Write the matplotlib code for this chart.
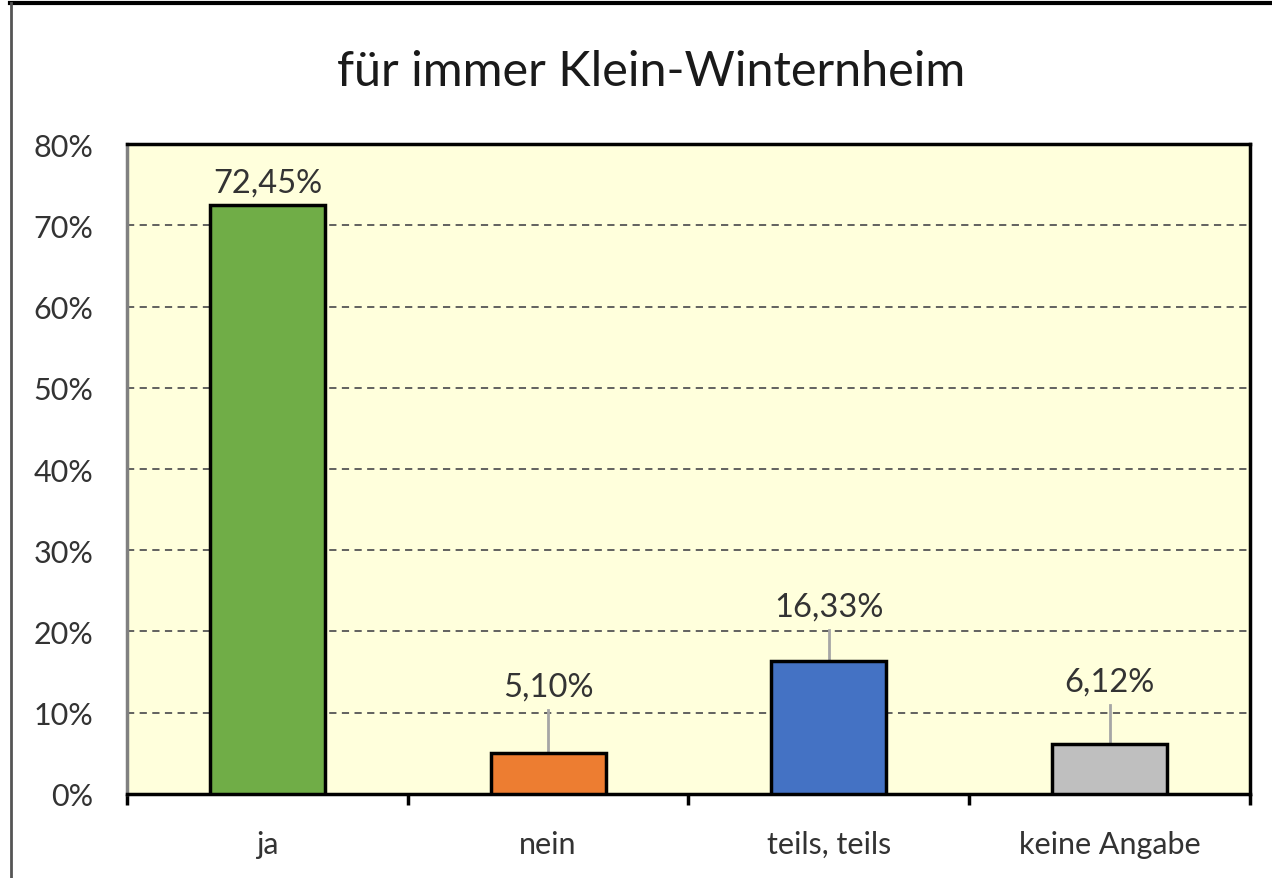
import matplotlib.pyplot as plt
from matplotlib.lines import Line2D

categories = ['ja', 'nein', 'teils, teils', 'keine Angabe']
values = [72.45, 5.10, 16.33, 6.12]
labels = ['72,45%', '5,10%', '16,33%', '6,12%']
# Position der Beschriftungen (in %), Excel hat einige nach oben versetzt
label_y = [75.3, 13.2, 23.1, 13.9]
colors = ['#70ad47', '#ed7d31', '#4472c4', '#bfbfbf']

plt.rcParams['font.family'] = ['Lato', 'DejaVu Sans']

fig = plt.figure(figsize=(12.72, 8.79), dpi=100)
ax = fig.add_axes([0.0998, 0.0956, 0.8829, 0.7394])
ax.set_facecolor('#ffffdc')

x = range(len(categories))
ax.bar(x, values, width=0.41, color=colors, edgecolor='black', linewidth=2.5, zorder=3)

for i, (v, ly, t) in enumerate(zip(values, label_y, labels)):
    ax.text(i, ly, t, ha='center', va='center', fontsize=23.5, color='#333333', zorder=4)
    if ly - v > 5:
        ax.plot([i, i], [ly - 2.9, v + 0.15], color='#a6a6a6', linewidth=2, zorder=2)

ax.set_xlim(-0.5, 3.5)
ax.set_ylim(0, 80)
ax.set_yticks(range(0, 81, 10))
ax.set_yticklabels([f'{v}%' for v in range(0, 81, 10)])
ax.yaxis.grid(True, linestyle=(0, (4, 3)), color='#555555', linewidth=1.3, zorder=1)
ax.tick_params(axis='y', length=0, pad=24, labelsize=22, labelcolor='#333333')

ax.set_xticks(list(x))
ax.set_xticklabels(categories)
ax.set_xticks([-0.5, 0.5, 1.5, 2.5, 3.5], minor=True)
ax.tick_params(axis='x', which='major', length=0, pad=26, labelsize=22, labelcolor='#333333')
ax.tick_params(axis='x', which='minor', length=8, width=2.5, direction='out', color='black')

for s in ['top', 'right', 'bottom']:
    ax.spines[s].set_linewidth(2.5)
    ax.spines[s].set_color('black')
ax.spines['left'].set_linewidth(2.5)
ax.spines['left'].set_color('#808080')

fig.text(0.512, 0.918, 'für immer Klein-Winternheim', ha='center', va='center', fontsize=35, color='#1a1a1a')

# Rahmen um die Grafik (oben und links)
fig.add_artist(Line2D([0.008, 1.0], [0.995, 0.995], color='black', linewidth=3, transform=fig.transFigure))
fig.add_artist(Line2D([0.009, 0.009], [0.0, 0.995], color='#555555', linewidth=2, transform=fig.transFigure))

fig.savefig('out.png', dpi=100)
